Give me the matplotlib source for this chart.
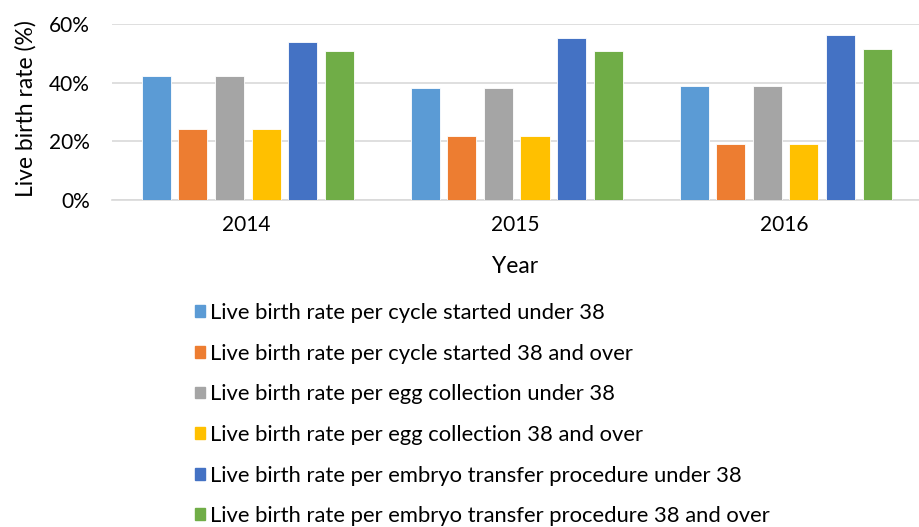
import matplotlib.pyplot as plt
import numpy as np
from matplotlib.patches import Patch

plt.rcParams['font.family'] = ['Lato', 'DejaVu Sans']

anos = ['2014', '2015', '2016']
series = [
    'Live birth rate per cycle started under 38',
    'Live birth rate per cycle started 38 and over',
    'Live birth rate per egg collection under 38',
    'Live birth rate per egg collection 38 and over',
    'Live birth rate per embryo transfer procedure under 38',
    'Live birth rate per embryo transfer procedure 38 and over',
]
ciclo_sub38 = [42.3, 38.1, 38.8]
ciclo_38mais = [24.2, 21.9, 19.1]
ovulo_sub38 = [42.3, 38.1, 38.8]
ovulo_38mais = [24.2, 21.9, 19.1]
embriao_sub38 = [54.0, 55.3, 56.3]
embriao_38mais = [50.7, 51.0, 51.6]
valores = [ciclo_sub38, ciclo_38mais, ovulo_sub38, ovulo_38mais,
           embriao_sub38, embriao_38mais]
cores = ['#5B9BD5', '#ED7D31', '#A5A5A5', '#FFC000', '#4472C4', '#70AD47']

fig = plt.figure(figsize=(9.2, 5.27), dpi=100)
ax = fig.add_axes([0.1217, 0.6205, 0.877, 0.3335])

x = np.arange(len(anos))
passo = 0.136
largura = 0.108
for i, (vals, cor) in enumerate(zip(valores, cores)):
    ax.bar(x + (i - 2.5) * passo + 0.005, vals, width=largura, color=cor,
           edgecolor='white', linewidth=0.6, zorder=3)

ax.set_xlim(-0.5, 2.5)
ax.set_ylim(0, 60)
ax.set_yticks([0, 20, 40, 60])
ax.set_yticklabels([f'{v}%' for v in [0, 20, 40, 60]], fontsize=15)
ax.set_xticks(x)
ax.set_xticklabels(anos, fontsize=15)
ax.grid(True, axis='y', color='#d9d9d9', linewidth=1.2, zorder=0)
for lado in ['top', 'right', 'left']:
    ax.spines[lado].set_visible(False)
ax.spines['bottom'].set_color('#d9d9d9')
ax.spines['bottom'].set_linewidth(1.2)
ax.tick_params(axis='x', length=0, pad=11)
ax.tick_params(axis='y', length=0, pad=16)

ax.set_ylabel('Live birth rate (%)', fontsize=16.5)
ax.yaxis.set_label_coords(-0.094, 0.52)
ax.set_xlabel('Year', fontsize=16.5, va='top')
ax.xaxis.set_label_coords(0.5, -0.32)

handles = [Patch(color=c, label=s) for c, s in zip(cores, series)]
fig.legend(handles=handles, loc='upper left', bbox_to_anchor=(0.212, 0.425),
           frameon=False, fontsize=15.8, handlelength=0.45, handleheight=0.45,
           handletextpad=0.25, labelspacing=0.94, borderpad=0, borderaxespad=0)

plt.savefig('out.png', dpi=100)
